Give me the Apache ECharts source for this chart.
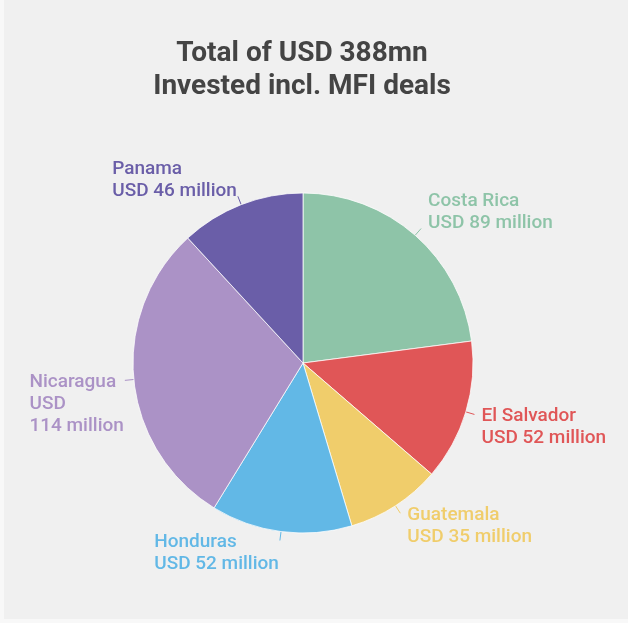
<!DOCTYPE html>
<html>
<head>
<meta charset="utf-8">
<title>Total of USD 388mn Invested incl. MFI deals</title>
<script src="https://cdn.jsdelivr.net/npm/echarts@6/dist/echarts.min.js"></script>
<style>
  html, body { margin: 0; padding: 0; background: #f8f8f8; }
  #chart { position: absolute; left: 4px; top: 0; width: 624px; height: 619px; background: #f0f0f0; }
</style>
</head>
<body>
<div id="chart"></div>
<script>
// Investment by country, USD million
const countries = ['Costa Rica', 'El Salvador', 'Guatemala', 'Honduras', 'Nicaragua', 'Panama'];
const invested = [89, 52, 35, 52, 114, 46];
const colors = ['#8ec4a8', '#e05657', '#f0cd6b', '#62b8e6', '#ab92c6', '#6a5ea8'];
const titleLines = ['Total of USD 388mn', 'Invested incl. MFI deals'];

const el = document.getElementById('chart');
const chart = echarts.init(el, null, { renderer: 'canvas' });

const CX = 299, CY = 363, R = 170;
const LINE_H = 22;
const LABEL_FONT = '500 19px Roboto';
const EDGE_LEFT = 28, EDGE_RIGHT = 16;   // minimum gap between label text and chart border
const total = invested.reduce((a, b) => a + b, 0);

// mid angle of each slice, clockwise from 12 o'clock
const midAngles = [];
let cum = 0;
invested.forEach(v => {
  midAngles.push(2 * Math.PI * (cum + v / 2) / total);
  cum += v;
});

function anchors(i) {
  const s = Math.sin(midAngles[i]), c = Math.cos(midAngles[i]);
  return {
    s: s, c: c,
    p0: [CX + R * s, CY - R * c],
    p1: [CX + (R + 9) * s, CY - (R + 9) * c]
  };
}

// greedy word wrap so a label never runs past the border gap
const ctx = document.createElement('canvas').getContext('2d');
ctx.font = LABEL_FONT;
function wrap(text, maxW) {
  const words = text.split(' ');
  const out = [];
  let cur = '';
  words.forEach(wd => {
    const tryLine = cur ? cur + ' ' + wd : wd;
    if (cur && ctx.measureText(tryLine).width > maxW) {
      out.push(cur);
      cur = wd;
    } else {
      cur = tryLine;
    }
  });
  if (cur) out.push(cur);
  return out.join('\n');
}

function labelText(p) {
  const a = anchors(p.dataIndex);
  const avail = a.s >= 0 ? el.clientWidth - EDGE_RIGHT - (a.p1[0] + 7) : a.p1[0] - 1 - EDGE_LEFT;
  const lines = [p.name, 'USD ' + p.value + '\u00a0million'];
  return lines.map(l => wrap(l, avail)).join('\n');
}

chart.setOption({
  backgroundColor: '#f0f0f0',
  title: {
    text: titleLines.join('\n'),
    left: CX - 6,
    textAlign: 'center',
    top: 32,
    textStyle: {
      fontFamily: 'Roboto',
      fontSize: 28,
      fontWeight: 'bold',
      color: '#444444',
      lineHeight: 33
    }
  },
  series: [{
    type: 'pie',
    center: [CX, CY],
    radius: R,
    startAngle: 90,
    clockwise: true,
    animation: false,
    silent: true,
    itemStyle: { borderColor: 'rgba(255,255,255,0.75)', borderWidth: 1 },
    label: {
      show: true,
      position: 'outside',
      fontFamily: 'Roboto',
      fontSize: 19,
      fontWeight: 500,
      lineHeight: LINE_H,
      align: 'left',
      formatter: labelText
    },
    labelLine: { show: true, length: 9, length2: 0, lineStyle: { width: 1 } },
    labelLayout: function (params) {
      const a = anchors(params.dataIndex);
      const w = params.labelRect.width, h = params.labelRect.height;
      // right half: text starts just past the line end; left half: text ends at it
      const x = a.s >= 0 ? a.p1[0] + 7 : a.p1[0] - 1 - w;
      // upper half: last line sits beside the line end; lower half: first line does
      const y = a.c > 0 ? a.p1[1] - 5 + LINE_H / 2 - h : a.p1[1] + 2 - LINE_H / 2;
      return {
        x: x,
        y: y,
        align: 'left',
        verticalAlign: 'top',
        labelLinePoints: [a.p0, a.p1, a.p1]
      };
    },
    data: countries.map((name, i) => ({
      name: name,
      value: invested[i],
      itemStyle: { color: colors[i] },
      label: { color: colors[i] },
      labelLine: { lineStyle: { color: colors[i] } }
    }))
  }]
});
</script>
</body>
</html>
